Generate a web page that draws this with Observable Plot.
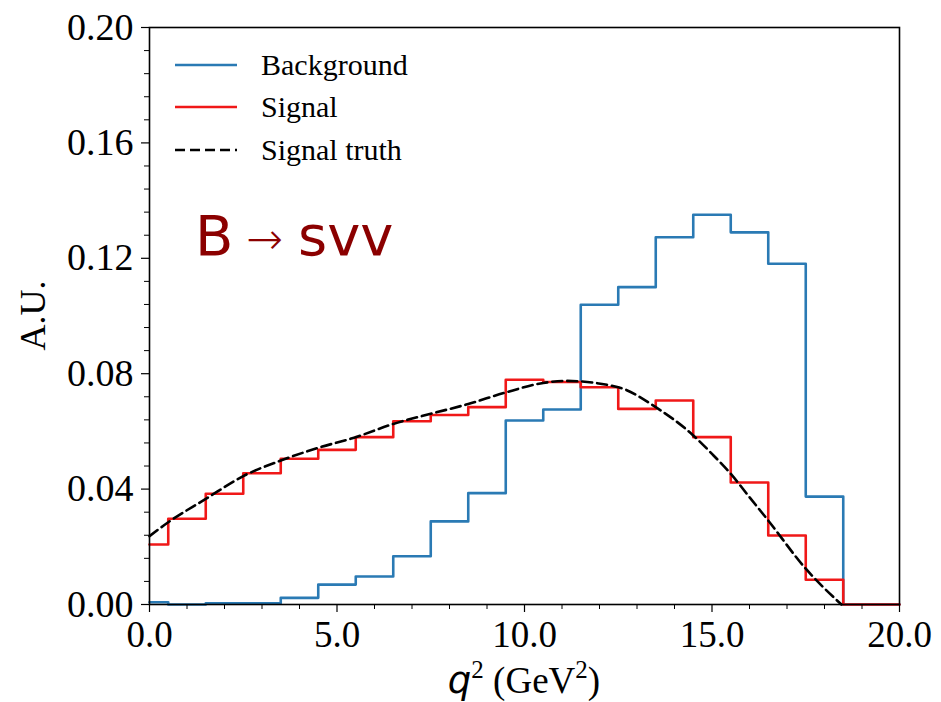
<!DOCTYPE html>
<html>
<head>
<meta charset="utf-8">
<script src="https://cdn.jsdelivr.net/npm/d3@7"></script>
<script src="https://cdn.jsdelivr.net/npm/@observablehq/plot@0.6"></script>
<style>
  html, body { margin: 0; padding: 0; background: white; }
  #chart { position: relative; width: 941px; height: 702px; }
</style>
</head>
<body>
<div id="chart"></div>
<script>
// Bin edges (q^2, GeV^2): each value applies from its edge to the next edge
const binEdges = [0, 0.5, 1.5, 2.5, 3.5, 4.5, 5.5, 6.5, 7.5, 8.5, 9.5, 10.5, 11.5, 12.5, 13.5, 14.5, 15.5, 16.5, 17.5, 18.5, 20];
const backgroundValues = [0.0008, 0, 0.0004, 0.0004, 0.0023, 0.0069, 0.0097, 0.0167, 0.0288, 0.0386, 0.0638, 0.0676, 0.1039, 0.1100, 0.1273, 0.1351, 0.1290, 0.1181, 0.0374, 0];
const signalValues = [0.0208, 0.0297, 0.0384, 0.0455, 0.0505, 0.0536, 0.0580, 0.0635, 0.0657, 0.0684, 0.0779, 0.0771, 0.0753, 0.0678, 0.0707, 0.0580, 0.0423, 0.0239, 0.0086, 0];
// Signal truth curve
const truthX = [0, 0.5, 1.5, 2.5, 3.5, 4.5, 5.5, 6.5, 7.5, 8.5, 9.5, 10.5, 11.1, 12.5, 13.5, 14.5, 15.0, 15.5, 16.0, 16.5, 17.5, 18.45];
const truthY = [0.0237, 0.0285, 0.0366, 0.0445, 0.0499, 0.0543, 0.0580, 0.0626, 0.0661, 0.0695, 0.0735, 0.0768, 0.0775, 0.0753, 0.0684, 0.0586, 0.0522, 0.0453, 0.0372, 0.0291, 0.0124, 0.0];
// Ticks
const xMajorTicks = [0, 5, 10, 15, 20];
const xMinorTicks = [1, 2, 3, 4, 6, 7, 8, 9, 11, 12, 13, 14, 16, 17, 18, 19];
const yMajorTicks = [0, 0.04, 0.08, 0.12, 0.16, 0.20];
const yMinorTicks = [0.008, 0.016, 0.024, 0.032, 0.048, 0.056, 0.064, 0.072, 0.088, 0.096, 0.104, 0.112, 0.128, 0.136, 0.144, 0.152, 0.168, 0.176, 0.184, 0.192];
const seriesNames = ["Background", "Signal", "Signal truth"];
const seriesColors = ["#2a7ab4", "#f01818", "#000000"];

function stepPoints(values) {
  return binEdges.map((e, i) => ({x: e, y: i < values.length ? values[i] : values[values.length - 1]}));
}
const bgData = stepPoints(backgroundValues);
const sigData = stepPoints(signalValues);
const truthData = truthX.map((x, i) => ({x, y: truthY[i]}));

const serif = "'Liberation Serif', 'Times New Roman', serif";

const plot = Plot.plot({
  width: 941,
  height: 702,
  marginLeft: 149,
  marginRight: 42,
  marginTop: 27,
  marginBottom: 98,
  style: {fontFamily: serif, fontSize: "35px", color: "black", background: "white", overflow: "visible"},
  x: {domain: [0, 20]},
  y: {domain: [0, 0.2]},
  marks: [
    Plot.line(bgData, {x: "x", y: "y", curve: "step-after", stroke: seriesColors[0], strokeWidth: 2.6}),
    Plot.line(sigData, {x: "x", y: "y", curve: "step-after", stroke: seriesColors[1], strokeWidth: 2.6}),
    Plot.line(truthData, {x: "x", y: "y", curve: "monotone-x", stroke: seriesColors[2], strokeWidth: 2.6, strokeDasharray: "10,5"}),
    Plot.axisX({ticks: xMinorTicks, tickSize: 5, tickFormat: () => "", label: null, strokeWidth: 1}),
    Plot.axisX({ticks: xMajorTicks, tickSize: 8, tickPadding: 8, tickFormat: d3.format(".1f"), label: null, strokeWidth: 1.2, fontSize: 37}),
    Plot.axisY({ticks: yMinorTicks, tickSize: 5, tickFormat: () => "", label: null, strokeWidth: 1}),
    Plot.axisY({ticks: yMajorTicks, tickSize: 8, tickPadding: 8, tickFormat: d3.format(".2f"), label: null, strokeWidth: 1.2, fontSize: 38}),
    Plot.frame({stroke: "black", strokeWidth: 1.6})
  ]
});

const svg = d3.select(plot);
const xs = plot.scale("x");
const ys = plot.scale("y");
const fx0 = xs.range[0], fx1 = xs.range[1];
const fy0 = ys.range[0], fy1 = ys.range[1]; // bottom, top

// Y label
svg.append("text")
  .attr("transform", `translate(${fx0 - 116},${(fy0 + fy1) / 2}) rotate(-90)`)
  .attr("text-anchor", "middle")
  .attr("dominant-baseline", "central")
  .attr("font-family", serif)
  .attr("font-size", 36)
  .attr("fill", "black")
  .text("A.U.");

// X label
const xl = svg.append("text")
  .attr("x", (fx0 + fx1) / 2)
  .attr("y", fy0 + 89)
  .attr("text-anchor", "middle")
  .attr("font-family", serif)
  .attr("font-size", 37)
  .attr("fill", "black");
xl.append("tspan").attr("font-family", "'DejaVu Sans', sans-serif").attr("font-style", "italic").attr("font-size", 37).text("q");
xl.append("tspan").attr("font-size", 25).attr("dy", -15).text("2");
xl.append("tspan").attr("dy", 15).text(" (GeV");
xl.append("tspan").attr("font-size", 25).attr("dy", -15).text("2");
xl.append("tspan").attr("dy", 15).text(")");

// Legend
const legendRows = [38, 80, 123];
seriesNames.forEach((name, i) => {
  const yy = fy1 + legendRows[i];
  svg.append("line")
    .attr("x1", fx0 + 26).attr("x2", fx0 + 88)
    .attr("y1", yy).attr("y2", yy)
    .attr("stroke", seriesColors[i])
    .attr("stroke-width", 2.6)
    .attr("stroke-dasharray", i === 2 ? "10,5" : null);
  svg.append("text")
    .attr("x", fx0 + 112)
    .attr("y", yy + 10)
    .attr("text-anchor", "start")
    .attr("font-family", serif)
    .attr("font-size", 30)
    .attr("fill", "black")
    .text(name);
});

// Annotation B -> svv
const annColor = "#8b0000";
const annY = fy1 + 228;
svg.append("text").attr("x", fx0 + 46).attr("y", annY).attr("text-anchor", "start")
  .attr("font-family", "'DejaVu Sans', sans-serif").attr("font-size", 56).attr("fill", annColor).text("B");
svg.append("text").attr("x", fx0 + 97).attr("y", annY - 1).attr("text-anchor", "start")
  .attr("font-family", "'DejaVu Sans', sans-serif").attr("font-size", 44).attr("font-weight", 300).attr("fill", annColor).text("→");
svg.append("text").attr("x", fx0 + 149).attr("y", annY).attr("text-anchor", "start")
  .attr("font-family", "'DejaVu Sans', sans-serif").attr("font-size", 56).attr("fill", annColor).text("svv");

document.getElementById("chart").appendChild(plot);
</script>
</body>
</html>
